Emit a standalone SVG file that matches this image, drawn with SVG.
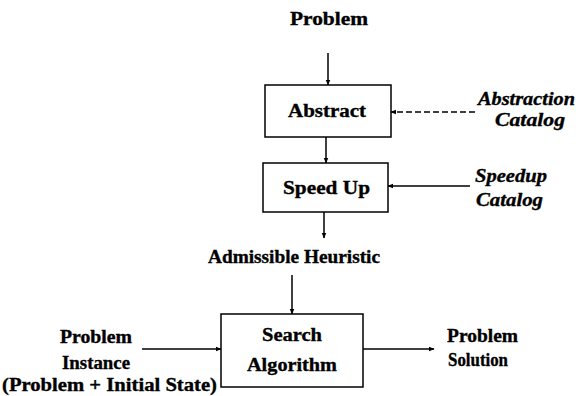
<svg xmlns="http://www.w3.org/2000/svg" width="580" height="396" viewBox="0 0 580 396">
  <style>
    .lbl { font-family: "Liberation Serif", "Times New Roman", serif; font-weight: bold; font-size: 18.5px; fill: #000; stroke: #000; stroke-width: 0.35; }
    .cat { font-style: italic; }
    .box { fill: #fff; stroke: #000; stroke-width: 1.5; }
    .wire { stroke: #000; stroke-width: 1.5; fill: none; }
    .dash { stroke-dasharray: 6 3; }
  </style>
  <defs>
    <marker id="head" viewBox="0 0 10 10" refX="9" refY="5" markerWidth="6" markerHeight="6" orient="auto" markerUnits="userSpaceOnUse">
      <path d="M0,1 L10,5 L0,9 Z" fill="#000"/>
    </marker>
  </defs>
  <rect width="580" height="396" fill="#fff"/>

  <!-- connectors -->
  <g id="connectors">
    <line class="wire" x1="328" y1="53" x2="328" y2="85" marker-end="url(#head)"/>
    <line class="wire dash" x1="475" y1="112" x2="391" y2="112" marker-end="url(#head)"/>
    <line class="wire" x1="326" y1="137" x2="326" y2="163" marker-end="url(#head)"/>
    <line class="wire" x1="470" y1="186" x2="388" y2="186" marker-end="url(#head)"/>
    <line class="wire" x1="324" y1="212" x2="324" y2="238" marker-end="url(#head)"/>
    <line class="wire" x1="292" y1="275" x2="292" y2="314" marker-end="url(#head)"/>
    <line class="wire" x1="142" y1="349" x2="221" y2="349" marker-end="url(#head)"/>
    <line class="wire" x1="363" y1="349" x2="434" y2="349" marker-end="url(#head)"/>
  </g>

  <!-- inputs and outputs -->
  <g id="problem">
    <text class="lbl" x="290" y="25" textLength="78" lengthAdjust="spacingAndGlyphs">Problem</text>
  </g>
  <g id="abstraction-catalog">
    <text class="lbl cat" x="478" y="105" textLength="97" lengthAdjust="spacingAndGlyphs">Abstraction</text>
    <text class="lbl cat" x="495" y="126" textLength="70" lengthAdjust="spacingAndGlyphs">Catalog</text>
  </g>
  <g id="speedup-catalog">
    <text class="lbl cat" x="475" y="182" textLength="72" lengthAdjust="spacingAndGlyphs">Speedup</text>
    <text class="lbl cat" x="476" y="206" textLength="67" lengthAdjust="spacingAndGlyphs">Catalog</text>
  </g>
  <g id="admissible-heuristic">
    <text class="lbl" x="208" y="263" textLength="172" lengthAdjust="spacingAndGlyphs">Admissible Heuristic</text>
  </g>
  <g id="problem-instance">
    <text class="lbl" x="60" y="343" textLength="72" lengthAdjust="spacingAndGlyphs">Problem</text>
    <text class="lbl" x="62" y="369" textLength="68" lengthAdjust="spacingAndGlyphs">Instance</text>
    <text class="lbl" x="2" y="391" textLength="215" lengthAdjust="spacingAndGlyphs">(Problem + Initial State)</text>
  </g>
  <g id="problem-solution">
    <text class="lbl" x="447" y="342" textLength="71" lengthAdjust="spacingAndGlyphs">Problem</text>
    <text class="lbl" x="448" y="366" textLength="60" lengthAdjust="spacingAndGlyphs">Solution</text>
  </g>

  <!-- process boxes -->
  <g id="abstract">
    <rect class="box" x="265" y="85" width="126" height="52"/>
    <text class="lbl" x="288" y="117" textLength="78" lengthAdjust="spacingAndGlyphs">Abstract</text>
  </g>
  <g id="speed-up">
    <rect class="box" x="263" y="163" width="125" height="49"/>
    <text class="lbl" x="283" y="194" textLength="87" lengthAdjust="spacingAndGlyphs">Speed Up</text>
  </g>
  <g id="search-algorithm">
    <rect class="box" x="221" y="314" width="142" height="73"/>
    <text class="lbl" x="262" y="341" textLength="60" lengthAdjust="spacingAndGlyphs">Search</text>
    <text class="lbl" x="247" y="371" textLength="90" lengthAdjust="spacingAndGlyphs">Algorithm</text>
  </g>
</svg>
